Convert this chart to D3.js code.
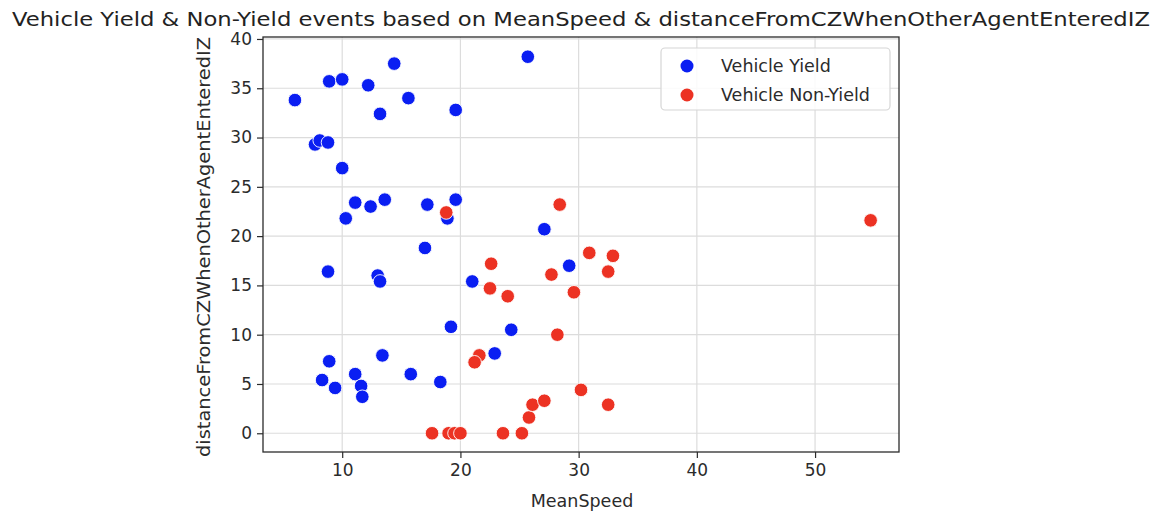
<!DOCTYPE html>
<html>
<head>
<meta charset="utf-8">
<script src="https://cdn.jsdelivr.net/npm/d3@7"></script>
<style>
  html, body { margin: 0; padding: 0; background: #fff; }
  svg { display: block; font-family: "DejaVu Sans", sans-serif; }
</style>
</head>
<body>
<svg id="chart" width="1164" height="513"></svg>
<script>
// Vehicle Yield events: mean speed and distance from CZ when the other agent entered the IZ
const yieldSpeed = [6.0, 8.9, 10.0, 12.2, 14.4, 13.2, 15.6, 19.6, 25.7, 7.7, 8.1, 8.8, 10.0, 11.1, 12.4, 13.6, 10.3, 17.2, 19.6, 18.9, 27.1, 17.0, 8.8, 13.0, 13.2, 21.0, 29.2, 19.2, 24.3, 22.9, 8.9, 13.4, 8.3, 9.4, 11.1, 11.6, 11.7, 15.8, 18.3];
const yieldDist  = [33.8, 35.7, 35.9, 35.3, 37.5, 32.4, 34.0, 32.8, 38.2, 29.3, 29.7, 29.5, 26.9, 23.4, 23.0, 23.7, 21.8, 23.2, 23.7, 21.8, 20.7, 18.8, 16.4, 16.0, 15.4, 15.4, 17.0, 10.8, 10.5, 8.1, 7.3, 7.9, 5.4, 4.6, 6.0, 4.8, 3.7, 6.0, 5.2];

// Vehicle Non-Yield events
const nonYieldSpeed = [18.8, 28.4, 54.7, 22.6, 22.5, 24.0, 27.7, 29.6, 30.9, 32.9, 32.5, 28.2, 21.6, 21.2, 30.2, 32.5, 17.6, 19.0, 19.5, 20.0, 23.6, 25.2, 25.8, 26.1, 27.1];
const nonYieldDist  = [22.4, 23.2, 21.6, 17.2, 14.7, 13.9, 16.1, 14.3, 18.3, 18.0, 16.4, 10.0, 7.9, 7.2, 4.4, 2.9, 0, 0, 0, 0, 0, 0, 1.6, 2.9, 3.3];

const seriesNames = ["Vehicle Yield", "Vehicle Non-Yield"];
const seriesColors = ["#0a1ef2", "#ec3223"];

const xTicks = [10, 20, 30, 40, 50];
const yTicks = [0, 5, 10, 15, 20, 25, 30, 35, 40];
const xDomain = [3.3, 57.1];
const yDomain = [-1.9, 40.2];

const titleText = "Vehicle Yield & Non-Yield events based on MeanSpeed & distanceFromCZWhenOtherAgentEnteredIZ";
const xLabel = "MeanSpeed";
const yLabel = "distanceFromCZWhenOtherAgentEnteredIZ";

const svg = d3.select("#chart");
const plot = { left: 263, right: 899, top: 37, bottom: 452 };

const x = d3.scaleLinear().domain(xDomain).range([plot.left, plot.right]);
const y = d3.scaleLinear().domain(yDomain).range([plot.bottom, plot.top]);

// grid
const grid = svg.append("g").attr("stroke", "#dcdcdc").attr("stroke-width", 1.2);
grid.selectAll(".gx").data(xTicks).join("line")
  .attr("x1", d => x(d)).attr("x2", d => x(d))
  .attr("y1", plot.top).attr("y2", plot.bottom);
grid.selectAll(".gy").data(yTicks).join("line")
  .attr("y1", d => y(d)).attr("y2", d => y(d))
  .attr("x1", plot.left).attr("x2", plot.right);

// points
const series = [
  { name: seriesNames[0], color: seriesColors[0], pts: yieldSpeed.map((s, i) => [s, yieldDist[i]]) },
  { name: seriesNames[1], color: seriesColors[1], pts: nonYieldSpeed.map((s, i) => [s, nonYieldDist[i]]) }
];
series.forEach(s => {
  svg.append("g").selectAll("circle").data(s.pts).join("circle")
    .attr("cx", d => x(d[0])).attr("cy", d => y(d[1]))
    .attr("r", 6.8)
    .attr("fill", s.color)
    .attr("stroke", "#fff").attr("stroke-width", 0.9);
});

// frame
svg.append("rect")
  .attr("x", plot.left).attr("y", plot.top)
  .attr("width", plot.right - plot.left).attr("height", plot.bottom - plot.top)
  .attr("fill", "none").attr("stroke", "#2b2b2b").attr("stroke-width", 1.3);

// axes
const xAxis = svg.append("g").attr("transform", `translate(0,${plot.bottom})`)
  .call(d3.axisBottom(x).tickValues(xTicks).tickSize(6).tickPadding(6).tickFormat(d3.format("d")));
const yAxis = svg.append("g").attr("transform", `translate(${plot.left},0)`)
  .call(d3.axisLeft(y).tickValues(yTicks).tickSize(6).tickPadding(5).tickFormat(d3.format("d")));
[xAxis, yAxis].forEach(a => {
  a.select(".domain").remove();
  a.selectAll(".tick line").attr("stroke", "#2b2b2b").attr("stroke-width", 1.2);
  a.selectAll(".tick text").attr("fill", "#2b2b2b").style("font-size", "17px").style("font-family", "DejaVu Sans");
});

// title and axis labels
svg.append("text")
  .attr("x", 581).attr("y", 26).attr("text-anchor", "middle")
  .attr("textLength", 1138).attr("lengthAdjust", "spacingAndGlyphs")
  .style("font-size", "20px").attr("fill", "#222")
  .text(titleText);

svg.append("text")
  .attr("x", 582).attr("y", 507).attr("text-anchor", "middle")
  .style("font-size", "17.5px").attr("fill", "#2b2b2b")
  .text(xLabel);

svg.append("text")
  .attr("transform", `translate(210,247) rotate(-90)`)
  .attr("text-anchor", "middle")
  .attr("textLength", 420).attr("lengthAdjust", "spacingAndGlyphs")
  .style("font-size", "18px").attr("fill", "#2b2b2b")
  .text(yLabel);

// legend
const lg = svg.append("g");
lg.append("rect")
  .attr("x", 661).attr("y", 48).attr("width", 229).attr("height", 62).attr("rx", 4)
  .attr("fill", "#fff").attr("fill-opacity", 0.85)
  .attr("stroke", "#d6d6d6").attr("stroke-width", 1.2);
series.forEach((s, i) => {
  const cy = 66 + i * 29;
  lg.append("circle").attr("cx", 687).attr("cy", cy).attr("r", 6.5).attr("fill", s.color);
  lg.append("text").attr("x", 721).attr("y", cy).attr("dy", "0.36em")
    .style("font-size", "17.5px").attr("fill", "#2b2b2b").text(s.name);
});
</script>
</body>
</html>
